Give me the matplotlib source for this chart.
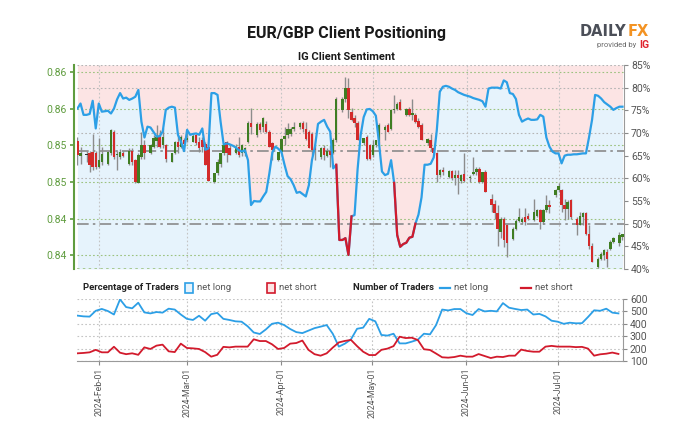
import numpy as np
import pandas as pd
import matplotlib
matplotlib.use("Agg")
import matplotlib.pyplot as plt
import matplotlib.dates as mdates
from matplotlib.patches import Rectangle
from matplotlib.lines import Line2D
from matplotlib.ticker import FormatStrFormatter

plt.rcParams["font.family"] = ["Roboto", "DejaVu Sans"]

# EUR/GBP Tageskerzen (So-Fr), 25.01.2024 - 22.07.2024
opens = [
    0.8556, 0.8536, 0.8537, 0.8540, 0.8541, 0.8539, 0.8521, 0.8527, 0.8524, 0.8539,
    0.8569, 0.8537, 0.8534, 0.8540, 0.8525, 0.8543, 0.8530, 0.8499, 0.8534, 0.8550,
    0.8539, 0.8548, 0.8556, 0.8562, 0.8550, 0.8550, 0.8528, 0.8539, 0.8555, 0.8548,
    0.8557, 0.8557, 0.8555, 0.8564, 0.8555, 0.8557, 0.8552, 0.8548, 0.8500, 0.8512,
    0.8525, 0.8539, 0.8554, 0.8546, 0.8540, 0.8548, 0.8540, 0.8540, 0.8555, 0.8580,
    0.8564, 0.8579, 0.8575, 0.8579, 0.8569, 0.8553, 0.8530, 0.8541, 0.8559, 0.8564,
    0.8565, 0.8573, 0.8575, 0.8580, 0.8573, 0.8569, 0.8566, 0.8548, 0.8534, 0.8546,
    0.8536, 0.8543, 0.8540, 0.8557, 0.8598, 0.8614, 0.8628, 0.8596, 0.8588, 0.8580,
    0.8553, 0.8562, 0.8550, 0.8537, 0.8550, 0.8555, 0.8571, 0.8578, 0.8573, 0.8598,
    0.8600, 0.8609, 0.8591, 0.8600, 0.8591, 0.8592, 0.8584, 0.8578, 0.8553, 0.8557,
    0.8546, 0.8540, 0.8509, 0.8516, 0.8507, 0.8515, 0.8505, 0.8509, 0.8502, 0.8511,
    0.8505, 0.8511, 0.8513, 0.8518, 0.8500, 0.8513, 0.8477, 0.8470, 0.8457, 0.8432,
    0.8450, 0.8441, 0.8422, 0.8436, 0.8447, 0.8445, 0.8452, 0.8454, 0.8448, 0.8454,
    0.8461, 0.8445, 0.8461, 0.8468, 0.8482, 0.8489, 0.8489, 0.8468, 0.8463, 0.8475,
    0.8450, 0.8441, 0.8452, 0.8457, 0.8429, 0.8413, 0.8384, 0.8395, 0.8400, 0.8404,
    0.8409, 0.8418, 0.8416, 0.8425,
]
highs = [
    0.8562, 0.8548, 0.8543, 0.8543, 0.8566, 0.8543, 0.8560, 0.8548, 0.8543, 0.8573,
    0.8571, 0.8543, 0.8545, 0.8543, 0.8546, 0.8546, 0.8532, 0.8539, 0.8569, 0.8557,
    0.8552, 0.8564, 0.8578, 0.8571, 0.8574, 0.8552, 0.8540, 0.8556, 0.8564, 0.8564,
    0.8560, 0.8569, 0.8566, 0.8566, 0.8562, 0.8562, 0.8555, 0.8550, 0.8502, 0.8532,
    0.8539, 0.8552, 0.8556, 0.8550, 0.8552, 0.8562, 0.8552, 0.8548, 0.8583, 0.8601,
    0.8582, 0.8582, 0.8589, 0.8584, 0.8571, 0.8555, 0.8541, 0.8560, 0.8575, 0.8580,
    0.8575, 0.8582, 0.8582, 0.8583, 0.8582, 0.8571, 0.8569, 0.8550, 0.8548, 0.8550,
    0.8546, 0.8550, 0.8560, 0.8616, 0.8616, 0.8644, 0.8642, 0.8601, 0.8592, 0.8583,
    0.8560, 0.8564, 0.8552, 0.8557, 0.8557, 0.8580, 0.8578, 0.8580, 0.8600, 0.8619,
    0.8610, 0.8614, 0.8601, 0.8603, 0.8614, 0.8594, 0.8587, 0.8580, 0.8560, 0.8566,
    0.8548, 0.8541, 0.8518, 0.8520, 0.8516, 0.8517, 0.8516, 0.8516, 0.8511, 0.8539,
    0.8510, 0.8534, 0.8520, 0.8520, 0.8514, 0.8516, 0.8484, 0.8475, 0.8468, 0.8452,
    0.8452, 0.8443, 0.8438, 0.8450, 0.8464, 0.8452, 0.8464, 0.8457, 0.8477, 0.8463,
    0.8463, 0.8463, 0.8482, 0.8475, 0.8491, 0.8498, 0.8491, 0.8477, 0.8475, 0.8477,
    0.8452, 0.8459, 0.8459, 0.8459, 0.8441, 0.8416, 0.8397, 0.8404, 0.8409, 0.8409,
    0.8420, 0.8425, 0.8432, 0.8429,
]
lows = [
    0.8523, 0.8525, 0.8527, 0.8513, 0.8516, 0.8518, 0.8519, 0.8523, 0.8523, 0.8537,
    0.8532, 0.8516, 0.8532, 0.8534, 0.8523, 0.8523, 0.8498, 0.8498, 0.8532, 0.8532,
    0.8538, 0.8547, 0.8548, 0.8546, 0.8546, 0.8528, 0.8527, 0.8538, 0.8539, 0.8546,
    0.8550, 0.8554, 0.8554, 0.8551, 0.8541, 0.8541, 0.8523, 0.8502, 0.8499, 0.8509,
    0.8521, 0.8537, 0.8528, 0.8537, 0.8538, 0.8534, 0.8536, 0.8536, 0.8553, 0.8566,
    0.8562, 0.8568, 0.8569, 0.8567, 0.8548, 0.8530, 0.8529, 0.8539, 0.8551, 0.8560,
    0.8563, 0.8570, 0.8573, 0.8569, 0.8557, 0.8546, 0.8537, 0.8530, 0.8532, 0.8530,
    0.8534, 0.8521, 0.8538, 0.8555, 0.8596, 0.8610, 0.8587, 0.8584, 0.8575, 0.8557,
    0.8550, 0.8530, 0.8530, 0.8534, 0.8548, 0.8553, 0.8557, 0.8569, 0.8571, 0.8594,
    0.8598, 0.8598, 0.8590, 0.8590, 0.8585, 0.8580, 0.8574, 0.8557, 0.8551, 0.8544,
    0.8537, 0.8500, 0.8507, 0.8509, 0.8505, 0.8503, 0.8496, 0.8484, 0.8498, 0.8500,
    0.8500, 0.8509, 0.8510, 0.8498, 0.8498, 0.8486, 0.8459, 0.8450, 0.8413, 0.8423,
    0.8411, 0.8397, 0.8420, 0.8434, 0.8445, 0.8443, 0.8441, 0.8448, 0.8446, 0.8452,
    0.8436, 0.8443, 0.8459, 0.8457, 0.8480, 0.8486, 0.8459, 0.8448, 0.8450, 0.8450,
    0.8427, 0.8441, 0.8441, 0.8427, 0.8409, 0.8390, 0.8383, 0.8393, 0.8393, 0.8384,
    0.8407, 0.8416, 0.8413, 0.8421,
]
closes = [
    0.8537, 0.8540, 0.8537, 0.8523, 0.8521, 0.8521, 0.8530, 0.8538, 0.8541, 0.8571,
    0.8534, 0.8538, 0.8541, 0.8536, 0.8543, 0.8527, 0.8500, 0.8537, 0.8550, 0.8540,
    0.8550, 0.8560, 0.8562, 0.8548, 0.8562, 0.8532, 0.8539, 0.8554, 0.8548, 0.8562,
    0.8552, 0.8560, 0.8563, 0.8553, 0.8546, 0.8548, 0.8523, 0.8502, 0.8512, 0.8527,
    0.8539, 0.8550, 0.8539, 0.8537, 0.8548, 0.8537, 0.8550, 0.8547, 0.8580, 0.8575,
    0.8579, 0.8571, 0.8587, 0.8569, 0.8548, 0.8544, 0.8541, 0.8559, 0.8563, 0.8573,
    0.8573, 0.8575, 0.8580, 0.8573, 0.8559, 0.8546, 0.8544, 0.8544, 0.8546, 0.8537,
    0.8542, 0.8537, 0.8558, 0.8614, 0.8614, 0.8628, 0.8598, 0.8585, 0.8580, 0.8557,
    0.8560, 0.8532, 0.8532, 0.8550, 0.8557, 0.8578, 0.8575, 0.8569, 0.8598, 0.8600,
    0.8607, 0.8598, 0.8600, 0.8591, 0.8594, 0.8582, 0.8575, 0.8557, 0.8559, 0.8546,
    0.8539, 0.8509, 0.8516, 0.8514, 0.8515, 0.8505, 0.8509, 0.8505, 0.8509, 0.8502,
    0.8507, 0.8514, 0.8518, 0.8500, 0.8513, 0.8486, 0.8468, 0.8457, 0.8436, 0.8450,
    0.8420, 0.8416, 0.8436, 0.8447, 0.8452, 0.8450, 0.8445, 0.8450, 0.8459, 0.8461,
    0.8445, 0.8461, 0.8468, 0.8466, 0.8489, 0.8494, 0.8468, 0.8463, 0.8473, 0.8452,
    0.8441, 0.8454, 0.8457, 0.8429, 0.8413, 0.8390, 0.8395, 0.8402, 0.8407, 0.8395,
    0.8418, 0.8423, 0.8427, 0.8429,
]

# IG Client Sentiment: Anteil Netto-Long in %, täglich
sent_long = [
    75.4, 76.5, 74.0, 74.0, 74.2, 77.1, 71.0, 76.5, 74.7, 74.8,
    74.9, 74.3, 75.4, 77.4, 78.8, 77.6, 77.8, 77.3, 77.6, 78.0,
    79.5, 72.5, 69.0, 71.4, 71.2, 70.2, 69.2, 69.3, 70.3, 75.1,
    75.6, 75.8, 75.6, 69.6, 68.1, 66.0, 70.7, 69.6, 69.8, 69.9,
    69.6, 71.0, 66.3, 66.6, 78.8,
    78.8, 78.4, 72.5, 67.5, 67.7, 67.5, 67.2, 66.8, 66.2, 65.9,
    66.2, 64.0, 54.1, 55.0, 54.9, 54.9, 56.0, 57.0, 61.0, 65.7,
    67.0, 66.5, 65.8, 63.0, 60.5, 59.8, 58.5, 56.8, 57.0, 56.5,
    56.0, 58.5, 64.0, 67.0, 72.0, 72.5, 72.9, 71.4, 70.3, 62.2,
    63.0, 46.4, 46.4, 46.8, 43.1,
    51.6, 51.9, 62.0, 69.5, 73.5, 75.2, 75.3, 74.8, 73.8, 68.0,
    61.5, 60.7, 61.0, 64.0, 59.0, 47.5, 44.9, 45.5, 45.8, 46.9,
    47.1, 50.0, 52.0, 55.8, 63.0, 63.0, 63.2, 64.6, 70.5, 79.1,
    80.2, 80.4, 80.2, 79.8, 79.5, 79.0, 78.7, 78.4, 78.2, 78.0,
    77.7, 77.5, 77.3, 77.0, 75.8,
    79.8, 80.0, 80.0, 80.0, 79.8, 81.6, 81.2, 78.8, 78.6, 77.5,
    74.0, 72.5, 72.9, 73.2, 72.9, 72.9, 73.0, 74.0, 73.6, 69.0,
    67.0, 65.9, 65.5, 65.5, 63.3, 65.0, 65.2, 65.2, 65.3, 65.3,
    65.4, 65.5, 65.5, 69.0, 72.9, 78.4, 78.2, 77.6, 76.8, 76.3,
    75.8, 75.1, 75.5, 75.8, 75.8,
]

# Anzahl Trader, alle zwei Tage
traders_long = [
    466, 460, 458, 505, 520, 503, 475, 597, 535, 525,
    570, 492, 484, 495, 490, 522, 515, 475, 440, 431,
    465, 425, 478, 488, 440, 431, 420, 417, 380, 330,
    318, 355, 400, 409, 390, 358, 333, 325, 345, 365,
    377, 390, 320, 216, 240, 275, 360, 369, 440, 420,
    310, 305, 320, 242, 242, 256, 272, 320, 315, 390,
    515, 508, 519, 519, 485, 471, 519, 500, 505, 500,
    567, 530, 520, 511, 515, 475, 480, 460, 425, 417,
    400, 409, 404, 405, 455, 509, 505, 522, 490, 484,
]
traders_short = [
    162, 165, 170, 190, 170, 170, 215, 167, 155, 162,
    150, 210, 197, 224, 232, 178, 172, 240, 205, 202,
    197, 172, 135, 150, 214, 210, 216, 216, 216, 275,
    261, 261, 235, 197, 205, 240, 245, 265, 190, 155,
    143, 162, 208, 250, 262, 270, 220, 175, 148, 148,
    190, 200, 220, 296, 285, 288, 269, 195, 189, 160,
    130, 127, 132, 143, 135, 135, 156, 140, 124, 135,
    132, 143, 143, 192, 181, 175, 175, 216, 222, 216,
    216, 216, 212, 214, 200, 143, 154, 159, 168, 157,
]

candle_dates = pd.bdate_range("2024-01-25", "2024-07-22", freq="C",
                              weekmask="Sun Mon Tue Wed Thu Fri")
sent_dates = pd.date_range("2024-01-25", "2024-07-22", freq="D")
trader_dates = pd.date_range("2024-01-25", periods=len(traders_long), freq="2D")
month_ticks = pd.date_range("2024-02-01", "2024-07-01", freq="MS")

GREEN_AX = "#5f9c3e"
GRAY_TXT = "#555555"
BLUE = "#2c9fe6"
RED = "#d21a2c"
DASHDOT = (0, (7, 2.5, 1.5, 2.5))
DOTTED = (0, (1.5, 2))

fig = plt.figure(figsize=(6.88, 4.29), dpi=100)
rect_main = [0.1115, 0.373, 0.7955, 0.4755]

ax_p = fig.add_axes(rect_main)      # Kurs (linke Achse)
ax_s = ax_p.twinx()                 # Sentiment-Flächen (rechte Achse)
ax_l = ax_p.twinx()                 # Sentiment-Linie ganz oben
ax_s.set_zorder(1)
ax_p.set_zorder(2)
ax_l.set_zorder(3)
ax_p.patch.set_visible(False)
ax_l.patch.set_visible(False)

xs = mdates.date2num(sent_dates)
sl = np.array(sent_long)
x0 = mdates.date2num(pd.Timestamp("2024-01-24 18:00"))
x1 = mdates.date2num(pd.Timestamp("2024-07-22 12:00"))

# Flächen: über der Linie rosa (short), darunter hellblau (long)
ax_s.fill_between(xs, sl, 85, color="#fce4e4", lw=0)
ax_s.fill_between(xs, 40, sl, color="#e6f3fc", lw=0)
for lvl in [60, 70, 80, 85]:
    ax_s.axhline(lvl, color="#b5b5b5", lw=0.8, ls=DOTTED)
ax_s.axhline(50, color="#8a8a8a", lw=1.2, ls=DASHDOT)
ax_s.set_ylim(40, 85)
ax_s.set_yticks(range(40, 90, 5))
ax_s.set_yticklabels([f"{v}%" for v in range(40, 90, 5)])
ax_s.tick_params(axis="y", colors="#8a8a8a", labelcolor=GRAY_TXT,
                 labelsize=7.5, length=3, width=0.8, pad=2)
for sp in ["top", "bottom", "left"]:
    ax_s.spines[sp].set_visible(False)
ax_s.spines["right"].set_color("#9a9a9a")

# Kerzen
cx = mdates.date2num(candle_dates)
for x, o, h, l, c in zip(cx, opens, highs, lows, closes):
    ax_p.vlines(x, l, h, color="#8c8c8c", lw=1.0, zorder=2)
    if c > o:
        col = "#3f7d22"
    elif c < o:
        col = "#d32a2a"
    else:
        col = "#333333"
    ax_p.bar(x, max(abs(c - o), 0.00006), bottom=min(o, c), width=0.8,
             color=col, lw=0, zorder=3)

for v in [0.84, 0.845, 0.85, 0.855, 0.86, 0.865]:
    ax_p.axhline(v, color="#9cc27f", lw=0.8, ls=DOTTED, zorder=1)
ax_p.axhline(0.8381, color="#9cc27f", lw=1.2, ls=DOTTED, zorder=1)
ax_p.axhline(0.8542, color="#8a8a8a", lw=1.2, ls=DASHDOT, zorder=1)
for m in month_ticks:
    ax_p.axvline(mdates.date2num(m), color="#c4c4c4", lw=0.8, ls=DOTTED, zorder=1)

ax_p.set_ylim(0.8381, 0.8660)
ax_p.set_yticks([0.84, 0.845, 0.85, 0.855, 0.86, 0.865])
ax_p.yaxis.set_major_formatter(FormatStrFormatter("%.2f"))
ax_p.tick_params(axis="y", colors=GREEN_AX, labelcolor=GREEN_AX,
                 labelsize=7.5, length=3, width=1.2, pad=2)
ax_p.spines["left"].set_color(GREEN_AX)
ax_p.spines["left"].set_linewidth(1.5)
ax_p.spines["left"].set_position(("outward", 2))
for sp in ["top", "bottom", "right"]:
    ax_p.spines[sp].set_visible(False)
ax_p.set_xlim(x0, x1)
ax_p.set_xticks(mdates.date2num(month_ticks))
ax_p.tick_params(axis="x", length=0, labelbottom=False)

# Sentiment-Linie, blau über 50 %, rot darunter
ax_l.plot(xs, sl, color=BLUE, lw=1.6, solid_joinstyle="round")
below = sl < 50
red_mask = below | np.r_[below[1:], False] | np.r_[False, below[:-1]]
ax_l.plot(xs, np.where(red_mask, sl, np.nan), color=RED, lw=1.6)
ax_l.set_ylim(40, 85)
ax_l.axis("off")

# Untere Grafik: Anzahl Trader
ax_b = fig.add_axes([0.1115, 0.1585, 0.794, 0.1445])
xt = mdates.date2num(trader_dates)
ax_b.plot(xt, traders_long, color=BLUE, lw=1.3)
ax_b.plot(xt, traders_short, color=RED, lw=1.3)
ax_b.set_xlim(x0, x1)
ax_b.set_ylim(100, 600)
ax_b.set_yticks(range(100, 700, 100))
ax_b.yaxis.tick_right()
ax_b.tick_params(axis="y", colors="#8a8a8a", labelcolor=GRAY_TXT,
                 labelsize=7.5, length=3, width=0.8, pad=2)
ax_b.grid(axis="both", color="#c4c4c4", lw=0.8, ls=DOTTED)
ax_b.set_xticks(mdates.date2num(month_ticks))
ax_b.xaxis.set_major_formatter(mdates.DateFormatter("%Y-%b-%d"))
ax_b.tick_params(axis="x", colors="#8a8a8a", labelcolor=GRAY_TXT,
                 labelsize=6.2, length=3, rotation=90, pad=2)
for sp in ["top", "left"]:
    ax_b.spines[sp].set_visible(False)
ax_b.spines["right"].set_color("#9a9a9a")
ax_b.spines["bottom"].set_color("#9a9a9a")

# Titel
fig.text(0.503, 0.922, "EUR/GBP Client Positioning", ha="center", va="center",
         fontsize=11.5, fontweight="bold", color="#1a1a1a")
fig.text(0.503, 0.866, "IG Client Sentiment", ha="center", va="center",
         fontsize=8, fontweight="bold", color="#1a1a1a")

# DailyFX Logo
fig.text(0.843, 0.927, "DAILY", ha="left", va="center", fontsize=10.5,
         fontweight="bold", color="#4b4f58", family="DejaVu Sans")
fig.text(0.912, 0.927, "FX", ha="left", va="center", fontsize=10.5,
         fontweight="bold", color="#f39323", family="DejaVu Sans")
fig.text(0.925, 0.895, "provided by", ha="right", va="center", fontsize=5.5,
         color="#6a6a6a")
fig.text(0.929, 0.895, "IG", ha="left", va="center", fontsize=7.5,
         fontweight="bold", color="#e0242e")

# Legende
ly = 1 - 288 / 429
lfs = 6.8
fig.text(83 / 688, ly, "Percentage of Traders", ha="left", va="center",
         fontsize=lfs, fontweight="bold", color="#222222")
fig.patches.append(Rectangle((185 / 688, ly - 0.011), 8 / 688, 0.022,
                             transform=fig.transFigure, facecolor="#e6f3fc",
                             edgecolor=BLUE, lw=1.2))
fig.text(197 / 688, ly, "net long", ha="left", va="center", fontsize=lfs, color=GRAY_TXT)
fig.patches.append(Rectangle((267 / 688, ly - 0.011), 8 / 688, 0.022,
                             transform=fig.transFigure, facecolor="#fce4e4",
                             edgecolor=RED, lw=1.2))
fig.text(279 / 688, ly, "net short", ha="left", va="center", fontsize=lfs, color=GRAY_TXT)
fig.text(353 / 688, ly, "Number of Traders", ha="left", va="center",
         fontsize=lfs, fontweight="bold", color="#222222")
fig.lines.append(Line2D([440 / 688, 450 / 688], [ly, ly], transform=fig.transFigure,
                        color=BLUE, lw=1.6))
fig.text(454 / 688, ly, "net long", ha="left", va="center", fontsize=lfs, color=GRAY_TXT)
fig.lines.append(Line2D([521 / 688, 531 / 688], [ly, ly], transform=fig.transFigure,
                        color=RED, lw=1.6))
fig.text(535 / 688, ly, "net short", ha="left", va="center", fontsize=lfs, color=GRAY_TXT)

assert len(candle_dates) == len(opens) == len(highs) == len(lows) == len(closes)
assert len(sent_dates) == len(sent_long)
assert len(traders_long) == len(traders_short)

fig.savefig("out.png", dpi=100)
